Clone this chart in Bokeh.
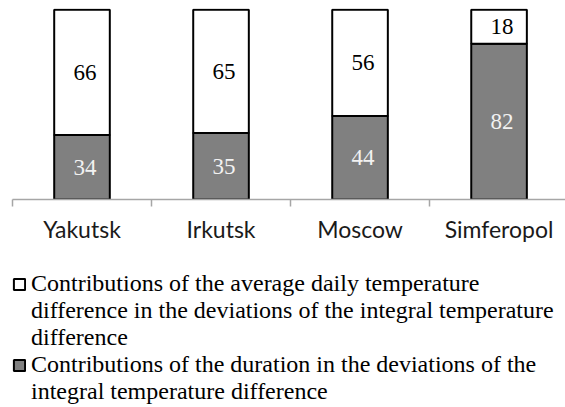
from bokeh.plotting import figure
from bokeh.layouts import column
from bokeh.models import ColumnDataSource, Range1d, FixedTicker, Legend, LegendItem
from bokeh.embed import file_html
from bokeh.resources import INLINE
from bokeh.core.properties import value

cities = ["Yakutsk", "Irkutsk", "Moscow", "Simferopol"]
avg_temp_contrib = [66, 65, 56, 18]
duration_contrib = [34, 35, 44, 82]
legend_avg_lines = ["Contributions of the average daily temperature",
                    "difference in the deviations of the integral temperature",
                    "difference"]
legend_dur_lines = ["Contributions of the duration in the deviations of the",
                    "integral temperature difference"]

GRAY = "#808080"

xs = [i + 0.5 for i in range(len(cities))]
src = ColumnDataSource(dict(
    x=xs,
    dur=duration_contrib,
    avg=avg_temp_contrib,
    dur_mid=[d / 2 for d in duration_contrib],
    avg_mid=[d + a / 2 for d, a in zip(duration_contrib, avg_temp_contrib)],
    dur_lbl=[str(v) for v in duration_contrib],
    avg_lbl=[str(v) for v in avg_temp_contrib],
))

p = figure(frame_width=553, frame_height=191, output_backend="svg", toolbar_location=None,
           x_range=Range1d(0, 3.978), y_range=Range1d(0, 100.6),
           min_border_left=12, min_border_right=0, min_border_top=8, min_border_bottom=60)
p.outline_line_color = None
p.xgrid.visible = False
p.ygrid.visible = False
p.yaxis.visible = False

r = p.vbar_stack(["dur", "avg"], x="x", width=0.4, source=src,
                 fill_color=[GRAY, "white"], line_color="black", line_width=2)

p.text(x="x", y="dur_mid", text="dur_lbl", source=src, x_offset=3,
       text_align="center", text_baseline="middle", text_color="#f2f2f2",
       text_font=value("Liberation Serif"), text_font_size="23px")
p.text(x="x", y="avg_mid", text="avg_lbl", source=src, x_offset=3,
       text_align="center", text_baseline="middle", text_color="black",
       text_font=value("Liberation Serif"), text_font_size="23px")

ax = p.xaxis[0]
ax.ticker = FixedTicker(ticks=xs, minor_ticks=list(range(len(cities) + 1)))
ax.major_label_overrides = {x: c for x, c in zip(xs, cities)}
ax.major_tick_out = 0
ax.major_tick_in = 0
ax.minor_tick_out = 7
ax.minor_tick_in = 0
ax.minor_tick_line_color = "#a6a6a6"
ax.minor_tick_line_width = 1.5
ax.axis_line_color = "#a6a6a6"
ax.axis_line_width = 1.5
ax.major_label_standoff = 8
ax.major_label_text_font = "Lato"
ax.major_label_text_font_size = "23px"
ax.major_label_text_color = "#1a1a1a"

# legend panel: same series as hidden renderers, legend only
p2 = figure(width=565, height=148, output_backend="svg", toolbar_location=None,
            x_range=Range1d(0, 1), y_range=Range1d(0, 1),
            x_axis_location=None, y_axis_location=None, min_border=0)
p2.outline_line_color = None
p2.xgrid.visible = False
p2.ygrid.visible = False
r2 = p2.vbar_stack(["dur", "avg"], x="x", width=0.4, source=src,
                   fill_color=[GRAY, "white"], line_color="black", line_width=2)
blank = p2.vbar(x="x", top="avg", width=0.4, source=src,
                fill_alpha=0, line_alpha=0)
for rr in list(r2) + [blank]:
    rr.visible = False

items = [LegendItem(label=legend_avg_lines[0], renderers=[r2[1]])]
items += [LegendItem(label=t, renderers=[blank]) for t in legend_avg_lines[1:]]
items += [LegendItem(label=legend_dur_lines[0], renderers=[r2[0]])]
items += [LegendItem(label=t, renderers=[blank]) for t in legend_dur_lines[1:]]

legend = Legend(items=items, location=(0, 2), orientation="vertical",
                label_text_font="Liberation Serif", label_text_font_size="24px",
                label_text_line_height=1.1, label_text_color="black",
                glyph_width=14, glyph_height=14, label_standoff=5,
                spacing=0, padding=0, margin=0, border_line_color=None,
                background_fill_alpha=0, inactive_fill_alpha=0,
                click_policy="none")
p2.add_layout(legend, "center")

lay = column(p, p2, spacing=0)
open("out.html", "w").write(file_html(lay, INLINE))
